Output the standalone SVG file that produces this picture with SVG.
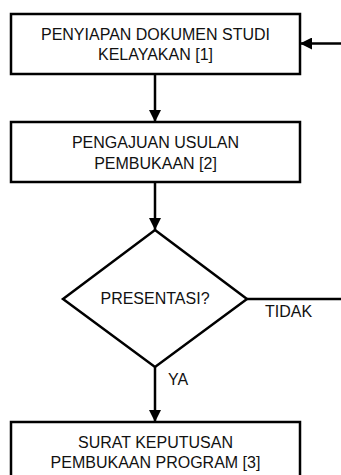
<svg xmlns="http://www.w3.org/2000/svg" width="341" height="475" viewBox="0 0 341 475">
  <defs>
    <marker id="arrow" viewBox="0 0 12 12" refX="12" refY="6" markerWidth="12" markerHeight="12" markerUnits="userSpaceOnUse" orient="auto">
      <path d="M0,0 L12,6 L0,12 Z" fill="#000"/>
    </marker>
    <style>
      .box { fill: #fff; stroke: #000; stroke-width: 2.5; }
      .edge { fill: none; stroke: #000; stroke-width: 2.5; }
      .lbl { font-family: "Liberation Sans", Arial, sans-serif; font-size: 16px; fill: #111; }
      .mid { text-anchor: middle; }
    </style>
  </defs>
  <rect width="341" height="475" fill="#fff"/>

  <g id="connectors">
    <line class="edge" x1="341" y1="43.5" x2="300" y2="43.5" marker-end="url(#arrow)"/>
    <line class="edge" x1="155" y1="74" x2="155" y2="122" marker-end="url(#arrow)"/>
    <line class="edge" x1="155" y1="182" x2="155" y2="230" marker-end="url(#arrow)"/>
    <line class="edge" x1="247" y1="299" x2="341" y2="299"/>
    <line class="edge" x1="155" y1="367" x2="155" y2="422" marker-end="url(#arrow)"/>
    <text class="lbl" x="265" y="317">TIDAK</text>
    <text class="lbl" x="168" y="384.5">YA</text>
  </g>

  <g id="node1">
    <rect class="box" x="11" y="14" width="289" height="60"/>
    <text class="lbl mid" x="155.5" y="39.5">PENYIAPAN DOKUMEN STUDI</text>
    <text class="lbl mid" x="155.5" y="60">KELAYAKAN [1]</text>
  </g>

  <g id="node2">
    <rect class="box" x="11" y="122" width="289" height="60"/>
    <text class="lbl mid" x="155.5" y="148">PENGAJUAN USULAN</text>
    <text class="lbl mid" x="155.5" y="168.5">PEMBUKAAN [2]</text>
  </g>

  <g id="decision">
    <polygon class="box" points="155,230 247,299 155,367 63,299"/>
    <text class="lbl mid" x="155" y="303.5">PRESENTASI?</text>
  </g>

  <g id="node3">
    <rect class="box" x="11" y="422" width="289" height="70"/>
    <text class="lbl mid" x="155.5" y="448">SURAT KEPUTUSAN</text>
    <text class="lbl mid" x="155.5" y="468">PEMBUKAAN PROGRAM [3]</text>
  </g>
</svg>
